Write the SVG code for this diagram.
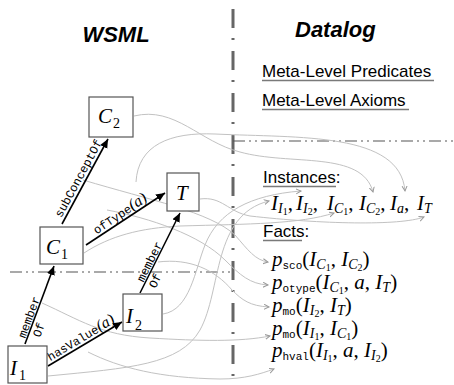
<svg xmlns="http://www.w3.org/2000/svg" width="454" height="385" viewBox="0 0 454 385">
<defs>
<style>
.g{fill:none;stroke:#c2c2c2;stroke-width:1;marker-end:url(#ga)}
.b{fill:none;stroke:#000;stroke-width:1.6;marker-end:url(#ba)}
.box{fill:#fff;stroke:#555;stroke-width:1.2}
.mi{font-family:"Liberation Serif","Times New Roman",serif;font-style:italic;fill:#000}
.tt{font-family:"Liberation Mono","DejaVu Sans Mono",monospace;font-style:normal}
.sans{font-family:"Liberation Sans",Arial,sans-serif;fill:#000}
.h{font-weight:bold;font-style:italic;font-size:22px}
.lab{font-size:12px}
.m{font-size:21px}
.s{font-size:14px}
.ss{font-size:10px}
.st{font-size:11px}
.up{font-style:normal}
.ul{stroke:#7a7a7a;stroke-width:1.4}
.vd{fill:none;stroke:#666;stroke-width:3;stroke-dasharray:19 10 2 11}
.hd{fill:none;stroke:#555;stroke-width:1.2;stroke-dasharray:12 4 2 4 2 4}
</style>
<marker id="ga" markerWidth="7" markerHeight="7" refX="5" refY="3" orient="auto" markerUnits="userSpaceOnUse"><path d="M0,0.5 L5,3 L0,5.5" fill="none" stroke="#999" stroke-width="1"/></marker>
<marker id="ba" markerWidth="11" markerHeight="9" refX="9" refY="4" orient="auto" markerUnits="userSpaceOnUse"><path d="M0,0 L9,4 L0,8 z" fill="#000"/></marker>
</defs>

<g id="dividers">
<path class="vd" d="M233,-33 L233,385"/>
<path class="hd" d="M233,141 L454,141"/>
<path class="hd" d="M10,272 L233,272"/>
</g>

<g id="headings">
<text class="sans h" x="116" y="42" text-anchor="middle">WSML</text>
<text class="sans h" x="295" y="37">Datalog</text>
<text class="sans" x="262" y="77" font-size="17">Meta-Level Predicates</text>
<line class="ul" x1="262" y1="80.5" x2="434" y2="80.5"/>
<text class="sans" x="262" y="106" font-size="17">Meta-Level Axioms</text>
<line class="ul" x1="262" y1="109.5" x2="409" y2="109.5"/>
<text class="sans" x="263" y="183" font-size="17">Instances:</text>
<line class="ul" x1="263" y1="186.5" x2="336" y2="186.5"/>
<text class="sans" x="263" y="237" font-size="17">Facts:</text>
<line class="ul" x1="263" y1="240.5" x2="302" y2="240.5"/>
</g>

<g id="instances">
<text class="mi m" x="271" y="210">I<tspan class="s" dy="3">I</tspan><tspan class="ss up" dy="2">1</tspan><tspan class="up" dy="-5">,</tspan></text>
<text class="mi m" x="296" y="210">I<tspan class="s" dy="3">I</tspan><tspan class="ss up" dy="2">2</tspan><tspan class="up" dy="-5">,</tspan></text>
<text class="mi m" x="327" y="210">I<tspan class="s" dy="3">C</tspan><tspan class="ss up" dy="2">1</tspan><tspan class="up" dy="-5">,</tspan></text>
<text class="mi m" x="359" y="210">I<tspan class="s" dy="3">C</tspan><tspan class="ss up" dy="2">2</tspan><tspan class="up" dy="-5">,</tspan></text>
<text class="mi m" x="390" y="210">I<tspan class="s" dy="3">a</tspan><tspan class="up" dy="-3">,</tspan></text>
<text class="mi m" x="417" y="210">I<tspan class="s" dy="3">T</tspan></text>
</g>

<g id="facts">
<text class="mi m" x="272" y="266">p<tspan class="tt st" dy="3">sco</tspan><tspan class="up" dy="-3">(</tspan>I<tspan class="s" dy="3">C</tspan><tspan class="ss up" dy="2">1</tspan><tspan class="up" dy="-5">, </tspan>I<tspan class="s" dy="3">C</tspan><tspan class="ss up" dy="2">2</tspan><tspan class="up" dy="-5">)</tspan></text>
<text class="mi m" x="272" y="289">p<tspan class="tt st" dy="3">otype</tspan><tspan class="up" dy="-3">(</tspan>I<tspan class="s" dy="3">C</tspan><tspan class="ss up" dy="2">1</tspan><tspan class="up" dy="-5">, </tspan>a<tspan class="up">, </tspan>I<tspan class="s" dy="3">T</tspan><tspan class="up" dy="-3">)</tspan></text>
<text class="mi m" x="272" y="312">p<tspan class="tt st" dy="3">mo</tspan><tspan class="up" dy="-3">(</tspan>I<tspan class="s" dy="3">I</tspan><tspan class="ss up" dy="2">2</tspan><tspan class="up" dy="-5">, </tspan>I<tspan class="s" dy="3">T</tspan><tspan class="up" dy="-3">)</tspan></text>
<text class="mi m" x="272" y="335">p<tspan class="tt st" dy="3">mo</tspan><tspan class="up" dy="-3">(</tspan>I<tspan class="s" dy="3">I</tspan><tspan class="ss up" dy="2">1</tspan><tspan class="up" dy="-5">, </tspan>I<tspan class="s" dy="3">C</tspan><tspan class="ss up" dy="2">1</tspan><tspan class="up" dy="-5">)</tspan></text>
<text class="mi m" x="272" y="357">p<tspan class="tt st" dy="3">hval</tspan><tspan class="up" dy="-3">(</tspan>I<tspan class="s" dy="3">I</tspan><tspan class="ss up" dy="2">1</tspan><tspan class="up" dy="-5">, </tspan>a<tspan class="up">, </tspan>I<tspan class="s" dy="3">I</tspan><tspan class="ss up" dy="2">2</tspan><tspan class="up" dy="-5">)</tspan></text>
</g>

<g id="connectors">
<path class="g" d="M134,116 C175,106 200,142 240,152 C290,166 362,150 373,192"/>
<path class="g" d="M136,182 C138,145 170,132 215,134 C300,138 400,132 405,191"/>
<path class="g" d="M200,199 C222,196 228,212 250,216 C320,224 400,226 424,217"/>
<path class="g" d="M84,253 C110,236 140,228 180,226 C250,224 300,224 334,213"/>
<path class="g" d="M48,376 C130,368 180,365 200,330 C222,290 212,215 269,201"/>
<path class="g" d="M163,314 C190,310 195,270 205,245 C218,212 250,195 301,191"/>
<path class="g" d="M83,180 C150,200 210,212 235,235 C248,250 255,260 268,262"/>
<path class="g" d="M107,210 C150,218 200,235 225,260 C240,275 250,284 268,285"/>
<path class="g" d="M158,262 C190,258 215,270 232,290 C242,300 250,306 269,307"/>
<path class="g" d="M42,303 C80,320 100,335 150,338 C200,341 240,342 270,336"/>
<path class="g" d="M88,352 C120,368 160,378 220,379 C245,379 260,374 274,369"/>

<path class="b" d="M62,224 L108,139"/>
<path class="b" d="M86,245 L165,193"/>
<path class="b" d="M140,293 L180,213"/>
<path class="b" d="M25,344 L54,266"/>
<path class="b" d="M48,366 L122,322"/>

<text class="tt lab" text-anchor="middle" transform="translate(81.9,180.3) rotate(-61.6)">subConceptOf</text>
<text class="tt lab" text-anchor="middle" transform="translate(122.3,217.5) rotate(-33.4)">ofType<tspan class="mi" font-size="16">(a)</tspan></text>
<text class="tt lab" text-anchor="middle" transform="translate(83,341.7) rotate(-30.7)">hasValue<tspan class="mi" font-size="16">(a)</tspan></text>
<text class="tt lab" transform="translate(143.4,282.8) rotate(-63.4)">member</text>
<text class="tt lab" transform="translate(155.4,288.9) rotate(-63.4)">Of</text>
<text class="tt lab" transform="translate(25.3,338.8) rotate(-69.6)">member</text>
<text class="tt lab" transform="translate(40,337.9) rotate(-69.6)">Of</text>
</g>

<g id="node-C2">
<rect class="box" x="89" y="97" width="44" height="40"/>
<text class="mi m" x="98" y="123">C<tspan class="s up" font-size="15" dx="1" dy="5">2</tspan></text>
</g>
<g id="node-T">
<rect class="box" x="167" y="173" width="32" height="38"/>
<text class="mi m" x="176" y="200">T</text>
</g>
<g id="node-C1">
<rect class="box" x="40" y="227" width="43" height="37"/>
<text class="mi m" x="46" y="254">C<tspan class="s up" font-size="15" dx="1" dy="5">1</tspan></text>
</g>
<g id="node-I2">
<rect class="box" x="123" y="294" width="39" height="37"/>
<text class="mi m" x="126" y="323">I<tspan class="s up" font-size="15" dx="2" dy="7">2</tspan></text>
</g>
<g id="node-I1">
<rect class="box" x="8" y="346" width="39" height="37"/>
<text class="mi m" x="10" y="375">I<tspan class="s up" font-size="15" dx="2" dy="5">1</tspan></text>
</g>
</svg>
